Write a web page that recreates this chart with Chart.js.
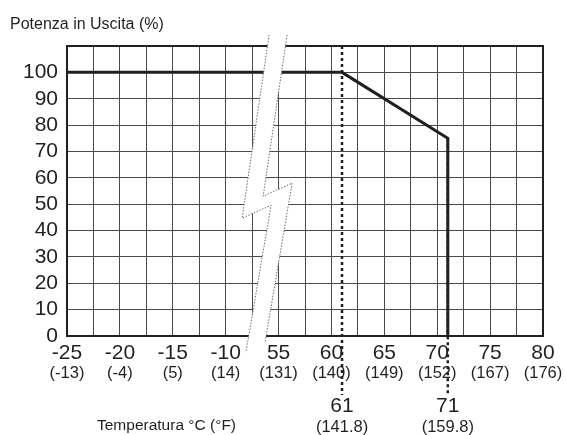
<!DOCTYPE html>
<html>
<head>
<meta charset="utf-8">
<script src="https://cdn.jsdelivr.net/npm/chart.js@4.4.1/dist/chart.umd.min.js"></script>
<style>
  html, body { margin: 0; padding: 0; background: #fff; }
  #wrap { width: 566px; height: 435px; position: relative; }
</style>
</head>
<body>
<div id="wrap"><canvas id="c" width="566" height="435"></canvas></div>
<script>
// ---- data ----
const tempC = [-25, 61, 71, 71];          // °C of the derating curve vertices
const power = [100, 100, 75, 0];          // output power (%)
const cTicks = [-25, -20, -15, -10, 55, 60, 65, 70, 75, 80];
const fLabels = ['(-13)', '(-4)', '(5)', '(14)', '(131)', '(140)', '(149)', '(152)', '(167)', '(176)'];
const markTicks = [61, 71];
const markF = ['(141.8)', '(159.8)'];
const yMax = 110;

const INK = '#231f20';
const FONT = "'Liberation Sans', Arial, Helvetica, sans-serif";

// broken axis: -25..-10 then 55..80 on one continuous scale
function toAxis(t) { return t <= -10 ? t + 25 : t - 35; }

const curve = tempC.map((t, i) => ({ x: toAxis(t), y: power[i] }));

const decor = {
  id: 'decor',
  afterDatasetsDraw(chart) {
    const { ctx, chartArea: a, scales: { x, y } } = chart;
    ctx.save();
    // frame
    ctx.strokeStyle = INK;
    ctx.lineWidth = 2;
    ctx.strokeRect(a.left, a.top, a.right - a.left, a.bottom - a.top);

    // axis break (lightning-shaped white band)
    const bx = x.getPixelForValue(17.5);
    const L = [[bx + 17, a.top - 11], [bx - 10, y.getPixelForValue(44.7)], [bx + 19, y.getPixelForValue(49.6)], [bx - 6, a.bottom + 15]];
    const R = [[bx + 35, a.top - 11], [bx + 11, y.getPixelForValue(53)], [bx + 40, y.getPixelForValue(58)], [bx + 13, a.bottom + 6]];
    ctx.beginPath();
    L.forEach((p, i) => i ? ctx.lineTo(p[0], p[1]) : ctx.moveTo(p[0], p[1]));
    R.slice().reverse().forEach(p => ctx.lineTo(p[0], p[1]));
    ctx.closePath();
    ctx.fillStyle = '#fff';
    ctx.fill();
    ctx.strokeStyle = '#6d6d6d';
    ctx.lineWidth = 1;
    ctx.setLineDash([1.5, 1.5]);
    [L, R].forEach(P => {
      ctx.beginPath();
      P.forEach((p, i) => i ? ctx.lineTo(p[0], p[1]) : ctx.moveTo(p[0], p[1]));
      ctx.stroke();
    });

    // dotted markers at 61 and 71 °C
    ctx.strokeStyle = INK;
    ctx.lineWidth = 2.5;
    ctx.setLineDash([3, 3]);
    const x61 = x.getPixelForValue(toAxis(markTicks[0]));
    const x71 = x.getPixelForValue(toAxis(markTicks[1]));
    ctx.beginPath();
    ctx.moveTo(x61, a.top); ctx.lineTo(x61, 395);
    ctx.moveTo(x71, y.getPixelForValue(power[2])); ctx.lineTo(x71, 395);
    ctx.stroke();
    ctx.restore();
  },
  afterDraw(chart) {
    const { ctx } = chart;
    ctx.save();
    ctx.fillStyle = INK;
    ctx.textAlign = 'left';
    ctx.textBaseline = 'alphabetic';
    ctx.font = '16px ' + FONT;
    ctx.fillText('Potenza in Uscita (%)', 10, 29);
    ctx.font = '15.5px ' + FONT;
    ctx.fillText('Temperatura °C (°F)', 97, 430);
    ctx.restore();
  }
};

const subAxis = (weight, font, pad, h, values, labels) => ({
  type: 'linear', position: 'bottom', weight,
  min: 0, max: 45,
  grid: { display: false, drawTicks: false },
  border: { display: false },
  afterFit: s => { s.height = h; },
  afterBuildTicks: s => { s.ticks = values.map(v => ({ value: toAxis(v) })); },
  ticks: {
    autoSkip: false, maxRotation: 0, minRotation: 0,
    padding: pad, color: INK,
    font: { family: FONT, size: font, lineHeight: 1 },
    callback: (v, i) => labels[i]
  }
});

new Chart(document.getElementById('c'), {
  type: 'line',
  data: {
    datasets: [{
      data: curve,
      borderColor: INK,
      borderWidth: 3,
      pointRadius: 0,
      tension: 0,
      borderJoinStyle: 'miter',
      fill: false
    }]
  },
  options: {
    responsive: false,
    animation: false,
    events: [],
    layout: { padding: { top: 46, right: 23, left: 0, bottom: 0 } },
    plugins: { legend: { display: false }, tooltip: { enabled: false }, title: { display: false } },
    scales: {
      x: {
        type: 'linear', position: 'bottom', weight: 0,
        min: 0, max: 45,
        afterFit: s => { s.height = 27.5; },
        grid: { color: '#4a4a4a', lineWidth: 1, drawTicks: false },
        border: { color: INK, width: 2 },
        ticks: {
          stepSize: 2.5, autoSkip: false, maxRotation: 0, minRotation: 0,
          padding: 6.5, color: INK,
          font: { family: FONT, size: 21, lineHeight: 1 },
          callback: v => {
            const i = cTicks.findIndex(t => toAxis(t) === v);
            return i >= 0 ? String(cTicks[i]) : '';
          }
        }
      },
      xF: subAxis(1, 16.5, 1.25, 17.5, cTicks, fLabels),
      xM: subAxis(2, 21, 14.5, 35, markTicks, markTicks.map(String)),
      xMF: subAxis(3, 16.5, 2.75, 19, markTicks, markF),
      y: {
        type: 'linear', min: 0, max: yMax,
        afterFit: s => { s.width = 67; },
        grid: { color: '#4a4a4a', lineWidth: 1, drawTicks: false },
        border: { color: INK, width: 2 },
        ticks: {
          stepSize: 10, padding: 9, color: INK,
          font: { family: FONT, size: 21, lineHeight: 1 },
          callback: v => (v === yMax ? '' : String(v))
        }
      }
    }
  },
  plugins: [decor]
});
</script>
</body>
</html>
